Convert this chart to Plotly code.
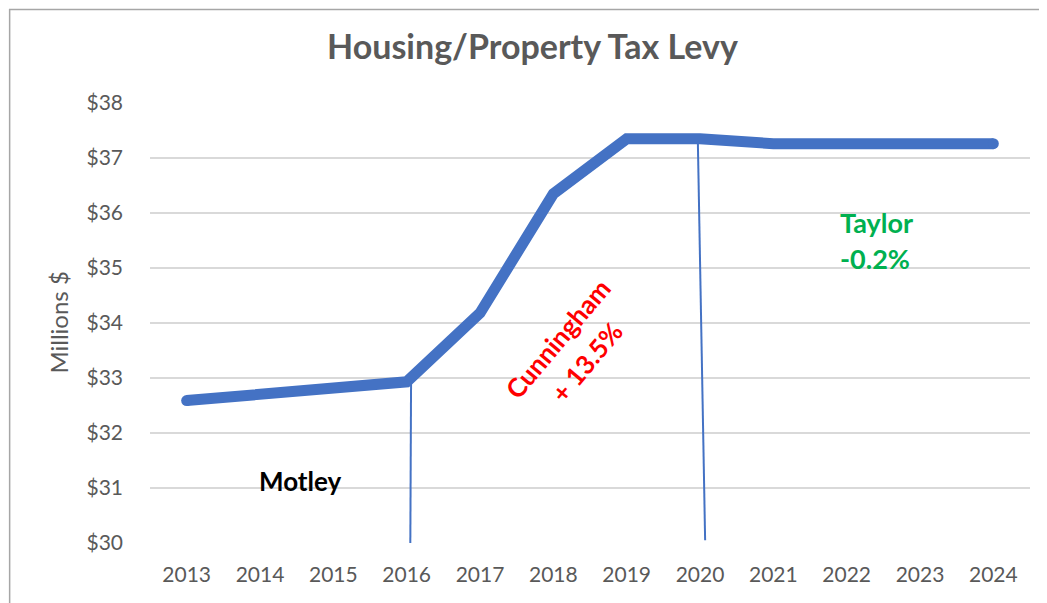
import plotly.graph_objects as go

# ---- data ----
years = [2013, 2014, 2015, 2016, 2017, 2018, 2019, 2020, 2021, 2022, 2023, 2024]
levy_millions = [32.59, 32.70, 32.82, 32.93, 34.18, 36.35, 37.35, 37.35, 37.26, 37.26, 37.26, 37.26]
y_ticks = [30, 31, 32, 33, 34, 35, 36, 37, 38]
y_tick_labels = ["$30", "$31", "$32", "$33", "$34", "$35", "$36", "$37", "$38"]
# term dividers (top x, bottom x, top y, bottom y)
divider_2016 = dict(x=[2016.06, 2016.05], y=[32.93, 30.0])
divider_2020 = dict(x=[2019.97, 2020.07], y=[37.35, 30.05])

FONT = "Lato"
GRAY = "#595959"
BLUE = "#4472C4"

fig = go.Figure()

for d in (divider_2016, divider_2020):
    fig.add_trace(go.Scatter(x=d["x"], y=d["y"], mode="lines",
                             line=dict(color=BLUE, width=2), hoverinfo="skip",
                             showlegend=False))

fig.add_trace(go.Scatter(x=years, y=levy_millions, mode="lines",
                         line=dict(color=BLUE, width=11), showlegend=False))
# round end caps
fig.add_trace(go.Scatter(x=[years[0], years[-1]], y=[levy_millions[0], levy_millions[-1]],
                         mode="markers", marker=dict(color=BLUE, size=11, line=dict(width=0)),
                         hoverinfo="skip", showlegend=False))

fig.update_layout(
    width=1039, height=595,
    margin=dict(l=142, r=17, t=95, b=60),
    paper_bgcolor="white", plot_bgcolor="white",
    font=dict(family=FONT, color=GRAY, size=21),
    xaxis=dict(range=[2012.5, 2024.5], tickmode="array", tickvals=years,
               ticktext=[str(y) for y in years], showgrid=False, zeroline=False,
               showline=False, ticks="", ticklabelstandoff=17,
               tickfont=dict(family=FONT, size=21, color=GRAY)),
    yaxis=dict(range=[30, 38], tickmode="array", tickvals=y_ticks, ticktext=y_tick_labels,
               showgrid=True, gridcolor="#D9D9D9", gridwidth=1.5, zeroline=False,
               showline=False, ticks="", ticklabelstandoff=26,
               tickfont=dict(family=FONT, size=21, color=GRAY)),
    shapes=[dict(type="rect", xref="paper", yref="paper", x0=-0.1595, x1=1.05,
                 y0=-0.25, y1=1.2125, line=dict(color="#A6A6A6", width=1.5),
                 fillcolor="rgba(0,0,0,0)", layer="below")],
)

annotations = [
    dict(text="<b>Housing/Property Tax Levy</b>", xref="paper", yref="paper",
         x=0.435, y=1.131, xanchor="center", yanchor="middle", showarrow=False,
         font=dict(family=FONT, size=34, color=GRAY)),
    dict(text="Millions $", xref="paper", yref="paper", x=-0.105, y=0.5,
         xanchor="center", yanchor="middle", textangle=-90, showarrow=False,
         font=dict(family=FONT, size=24, color=GRAY)),
    dict(text="<b>Motley</b>", x=2014.54, y=31.13, xanchor="center", yanchor="middle",
         showarrow=False, font=dict(family=FONT, size=26, color="black")),
    dict(text="<b>Taylor</b>", x=2021.88, y=35.83, xanchor="left", yanchor="middle",
         showarrow=False, font=dict(family=FONT, size=27, color="#00B050")),
    dict(text="<b>-0.2%</b>", x=2021.88, y=35.17, xanchor="left", yanchor="middle",
         showarrow=False, font=dict(family=FONT, size=27, color="#00B050")),
    dict(text="<b>Cunningham</b>", x=2018.07, y=33.72, xanchor="center", yanchor="middle",
         textangle=-50, showarrow=False, font=dict(family=FONT, size=26, color="#FF0000")),
    dict(text="<b>+ 13.5%</b>", x=2018.45, y=33.30, xanchor="center", yanchor="middle",
         textangle=-50, showarrow=False, font=dict(family=FONT, size=26, color="#FF0000")),
]
fig.update_layout(annotations=annotations)

fig.write_html("out.html")
